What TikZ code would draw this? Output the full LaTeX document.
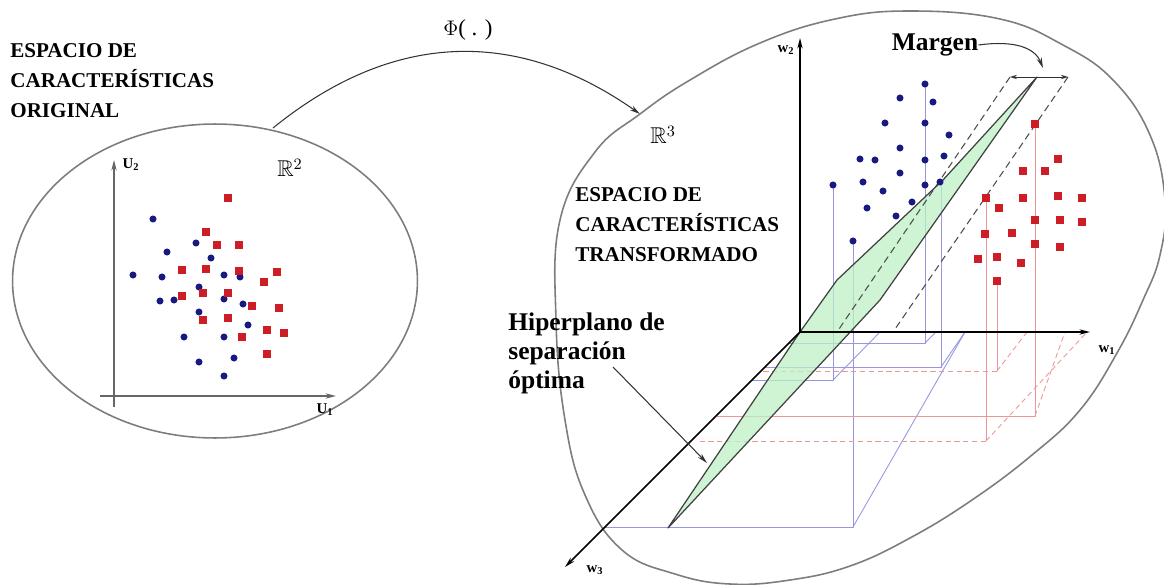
\documentclass[tikz,border=0pt]{standalone}
\usepackage{fontspec}
\setmainfont{Liberation Serif}
\usepackage{amssymb}
\usetikzlibrary{arrows.meta,shapes.geometric}
\definecolor{ptblue}{RGB}{25,25,130}
\definecolor{ptred}{RGB}{205,30,40}
\definecolor{ringgray}{RGB}{125,125,125}
\definecolor{planegreen}{RGB}{190,240,198}
\definecolor{projblue}{RGB}{150,150,225}
\definecolor{projred}{RGB}{238,150,150}
\tikzset{
  headtxt/.style={font=\fontsize{12}{17}\selectfont\bfseries, align=left, inner sep=0pt},
  labtxt/.style={font=\fontsize{14.5}{16.5}\selectfont\bfseries, align=left, inner sep=0pt},
  axtxt/.style={font=\fontsize{8.5}{10}\selectfont\bfseries, inner sep=0pt},
  ring/.style={draw=ringgray, line width=0.9pt},
  bpt/.style={fill=ptblue},
  rpt/.style={fill=ptred},
  pline/.style={projblue, line width=0.5pt},
  rline/.style={projred, line width=0.5pt},
  rdash/.style={projred, line width=0.5pt, dash pattern=on 3pt off 2pt},
  arr/.style={-{Stealth[length=6pt,width=3pt]}},
}
\begin{document}
\begin{tikzpicture}[x=0.02cm, y=-0.02cm, line join=round]
  \useasboundingbox (0,0) rectangle (1164,585);

  % original space
  \node[ring, ellipse, minimum width=8.1cm, minimum height=6.28cm, inner sep=0pt] (lspace) at (215,281) {};
  \node[headtxt, anchor=north west] (ltitle) at (10,43) {ESPACIO DE\\CARACTERÍSTICAS\\ORIGINAL};
  \coordinate (uo2) at (114,407);
  \coordinate (u2tip) at (114,160);
  \coordinate (uo1) at (100,396);
  \coordinate (u1tip) at (336,396);
  \draw[black!60, line width=0.6pt, arr] (uo2) -- (u2tip);
  \draw[black!60, line width=0.6pt, arr] (uo1) -- (u1tip);
  \node[axtxt] (u2lab) at (131,165) {U\textsubscript{2}};
  \node[axtxt] (u1lab) at (325,410) {U\textsubscript{1}};
  \node[font=\fontsize{13}{15}\selectfont] (r2lab) at (290,168) {$\mathbb{R}^{2}$};
  \foreach \p in {(153,219),(196,243),(167,252),(211,258),(133,275),(162,277),(224,275),
    (240,277),(199,287),(160,301),(174,300),(224,299),(243,304),(199,312),(248,325),
    (184,337),(224,337),(234,358),(199,362),(224,376)}
    \fill[bpt] \p circle (2pt);
  \foreach \x/\y in {228/198,206/232,217/245,239/245,182/270,206/269,239/271,277/272,
    264/282,182/296,203/293,228/293,252/306,279/308,203/320,228/318,242/337,267/330,
    284/333,267/354}
    \fill[rpt] (\x,\y) ++(-2.2pt,-2.2pt) rectangle ++(4.4pt,4.4pt);

  % mapping
  \coordinate (phis) at (273,128);
  \coordinate (phie) at (640,114);
  \draw[black!80, line width=0.6pt, arr] (phis) .. controls (395,29) and (519,29) .. (phie);
  \node[font=\fontsize{13}{15}\selectfont] (philab) at (468,30) {$\Phi$( . )};

  % transformed space
  \draw[ring] plot[smooth cycle, tension=0.7] coordinates {
    (640,114) (690,80) (760,43) (835,19) (910,11) (1000,19) (1063,45) (1113,80)
    (1150,135) (1165,200) (1160,255) (1143,300) (1117,353) (1080,410) (1032,455)
    (972,500) (910,538) (850,566) (790,580) (730,584) (675,574) (622,550) (585,495)
    (565,420) (556,320) (560,220) (595,152)};
  \node[headtxt, anchor=north west] (rtitle) at (575,187) {ESPACIO DE\\CARACTERÍSTICAS\\TRANSFORMADO};
  \node[font=\fontsize{13}{15}\selectfont] (r3lab) at (663,135) {$\mathbb{R}^{3}$};

  \coordinate (O) at (800,332);
  \coordinate (w1tip) at (1090,332);
  \coordinate (w2tip) at (800,38);
  \coordinate (w3tip) at (565,567);

  % drop lines, blue class
  \draw[pline] (833,185) -- (833,380) -- (752,380);
  \draw[pline] (833,380) -- (880,332);
  \draw[pline] (853,241) -- (853,527) -- (605,527);
  \draw[pline] (853,527) -- (965,332);
  \draw[pline] (925,84) -- (925,343) -- (789,343);
  \draw[pline] (925,343) -- (936,332);
  \draw[pline] (941,182) -- (941,367) -- (765,367);
  \draw[pline] (941,367) -- (965,332);
  % drop lines, red class
  \draw[rline] (986,198) -- (986,441);
  \draw[rdash] (986,441) -- (697,441);
  \draw[rdash] (986,441) -- (1087,332);
  \draw[rline] (997,281) -- (997,371);
  \draw[rdash] (997,371) -- (762,371);
  \draw[rdash] (997,371) -- (1027,332);
  \draw[rline] (1035,124) -- (1035,416) -- (717,416);
  \draw[rdash] (1035,416) -- (1065,332);

  % separating plane
  \coordinate (T) at (1037,77);
  \coordinate (B1) at (668,528);
  \fill[planegreen, fill opacity=0.75] (T) -- (943,180) -- (837,280) -- (O) -- (B1) -- (880,300) -- cycle;
  \draw[black!75, line width=0.7pt] (T) -- (943,180) -- (837,280) -- (O) -- (B1) -- (880,300) -- cycle;
  \coordinate (mL) at (1010,77);
  \coordinate (mR) at (1068,77);
  \draw[black!70, line width=0.6pt, dash pattern=on 4pt off 2.5pt] (mL) -- (837,332);
  \draw[black!70, line width=0.6pt, dash pattern=on 4pt off 2.5pt] (mR) -- (893,332);
  \draw[black!80, line width=0.5pt, {Stealth[length=4pt,width=2.5pt]}-{Stealth[length=4pt,width=2.5pt]}] (mL) -- (mR);

  % axes
  \draw[black, line width=0.8pt, arr] (O) -- (w2tip);
  \draw[black, line width=0.8pt, arr] (O) -- (w1tip);
  \draw[black, line width=0.9pt, arr] (O) -- (w3tip);
  \node[axtxt] (w2lab) at (786,50) {w\textsubscript{2}};
  \node[axtxt] (w1lab) at (1107,350) {w\textsubscript{1}};
  \node[axtxt] (w3lab) at (595,570) {w\textsubscript{3}};

  \foreach \p in {(925,84),(900,98),(933,102),(885,123),(925,123),(949,135),(900,148),
    (944,156),(860,159),(875,160),(925,160),(900,173),(863,182),(833,185),(940,182),
    (925,185),(883,191),(912,202),(867,208),(896,216),(853,241)}
    \fill[bpt] \p circle (2pt);
  \foreach \x/\y in {1035/124,1058/159,1023/171,1045/171,986/198,999/208,1023/198,
    1058/196,1082/198,1035/220,1060/220,1082/222,985/234,1012/233,1035/244,1060/247,
    978/259,997/257,1021/263,997/281}
    \fill[rpt] (\x,\y) ++(-2.2pt,-2.2pt) rectangle ++(4.4pt,4.4pt);

  % labels
  \node[labtxt] (margen) at (935,45) {Margen};
  \coordinate (mtip) at (1043,68);
  \draw[black!80, line width=0.6pt, arr] (margen.east) .. controls (1015,40) and (1035,48) .. (mtip);
  \node[labtxt, anchor=north west] (hyplab) at (508,312) {Hiperplano de\\separación\\óptima};
  \coordinate (hyps) at (613,367);
  \coordinate (hype) at (707,463);
  \draw[black!80, line width=0.6pt, arr] (hyps) -- (hype);
\end{tikzpicture}
\end{document}
